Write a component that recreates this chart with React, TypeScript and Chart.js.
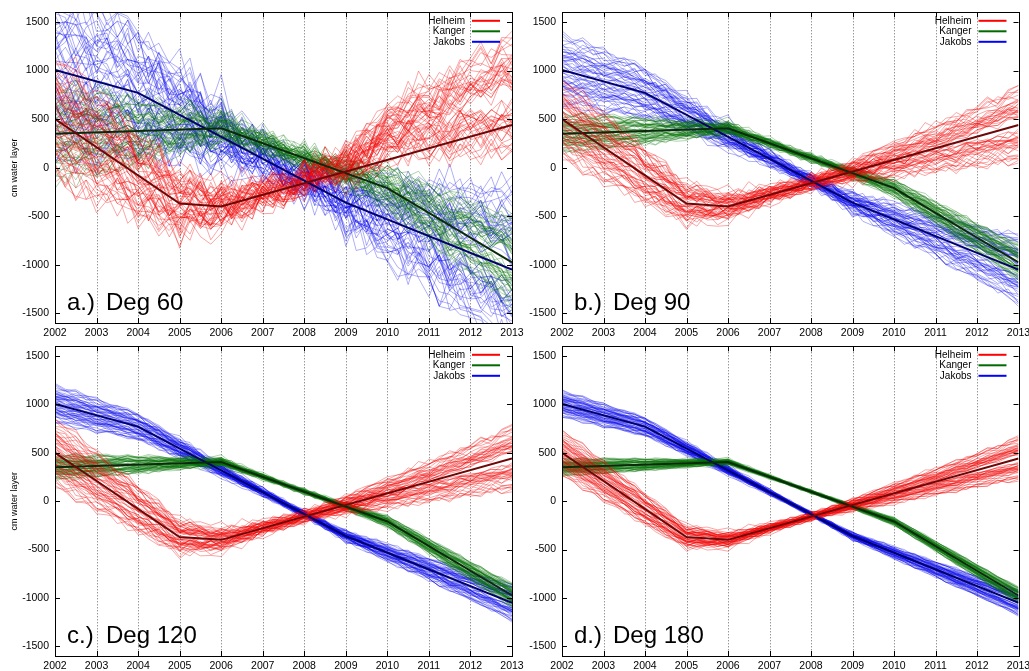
import React, { useEffect, useRef } from "react";
import { Chart, registerables } from "chart.js";

Chart.register(...registerables);

// ---------- data ----------
const YEARS = [2002, 2003, 2004, 2005, 2006, 2007, 2008, 2009, 2010, 2011, 2012, 2013];
const Y_TICKS = [-1500, -1000, -500, 0, 500, 1000, 1500];
const SERIES_NAMES = ["Helheim", "Kanger", "Jakobs"];
const PANEL_LETTERS = ["a.)", "b.)", "c.)", "d.)"];
const PANEL_TITLES = ["Deg 60", "Deg 90", "Deg 120", "Deg 180"];
const Y_TITLE = "cm water layer";

// quarterly sampling of the ensemble members
const SAMPLE_START = 2002;
const SAMPLE_STEP = 0.25;

// true (reference) curves, knots
const helheimKnotsX = [2002, 2005, 2006, 2013];
const helheimKnotsY = [500, -370, -400, 440];
const kangerKnotsX = [2002, 2006, 2010, 2013];
const kangerKnotsY = [350, 405, -210, -975];
const jakobsKnotsX = [2002, 2004, 2009, 2013];
const jakobsKnotsY = [1005, 770, -360, -1050];

// true curves read at the quarterly sample times
const helheimTruth = [500, 428, 355, 283, 210, 138, 65, -8, -80, -153, -225, -298, -370, -378, -385, -393, -400,
  -370, -340, -310, -280, -250, -220, -190, -160, -130, -100, -70, -40, -10, 20, 50, 80, 110, 140, 170, 200, 230, 260, 290, 320, 350, 380, 410, 440];
const kangerTruth = [350, 353, 357, 360, 364, 367, 371, 374, 378, 381, 384, 388, 391, 395, 398, 402, 405,
  367, 328, 290, 251, 213, 174, 136, 98, 59, 21, -18, -56, -95, -133, -172, -210,
  -274, -338, -401, -465, -529, -593, -656, -720, -784, -848, -911, -975];
const jakobsTruth = [1005, 976, 946, 917, 888, 858, 829, 799, 770,
  714, 657, 601, 544, 488, 431, 375, 318, 262, 205, 149, 92, 36, -21, -77, -134, -190, -247, -304, -360,
  -403, -446, -489, -533, -576, -619, -662, -705, -748, -791, -834, -878, -921, -964, -1007, -1050];

// ensemble member departures (slow part), in spread units
const OFFSETS = [
  [9,8,9,7,8, 7,6,7,5,6, 5,5,4,5,3, 4,3,3,2,3, 2,1,2,1,2, 1,2,2,3,2, 3,4,3,4,5, 4,5,6,5,6, 7,6,7,8,8],
  [-8,-9,-7,-8,-6, -7,-6,-5,-6,-4, -5,-4,-3,-4,-3, -2,-3,-2,-1,-2, -1,-2,-1,0,-1, 0,-1,0,-1,-2, -1,-2,-3,-2,-3, -4,-3,-4,-5,-4, -5,-6,-5,-7,-7],
  [5,6,4,5,6, 5,4,5,3,4, 2,3,2,1,2, 0,-1,0,-1,-2, -1,-2,-1,-2,-1, -2,-1,-2,-3,-2, -3,-4,-3,-4,-5, -4,-5,-6,-7,-6, -7,-8,-7,-9,-9],
  [-4,-3,-5,-4,-2, -3,-1,-2,0,-1, 1,0,2,1,2, 3,2,3,2,1, 2,1,2,1,0, 1,2,1,2,3, 2,3,4,3,5, 4,5,6,5,7, 6,7,8,7,9],
  [10,9,10,8,9, 8,7,8,6,7, 6,5,6,4,5, 4,5,3,4,2, 3,2,1,2,1, 0,1,0,-1,0, -1,0,-1,0,1, 0,1,2,1,2, 3,2,3,4,3],
  [2,1,3,2,4, 3,4,5,4,3, 4,3,4,2,3, 2,1,2,0,1, 0,-1,0,-1,-2, -1,-2,-3,-2,-3, -4,-3,-4,-5,-4, -5,-6,-5,-6,-7, -6,-7,-8,-7,-8],
  [-10,-9,-10,-8,-9, -7,-8,-6,-7,-5, -6,-4,-5,-3,-4, -3,-2,-3,-1,-2, -1,0,-1,0,1, 0,1,2,1,2, 3,2,3,4,3, 4,3,4,5,4, 5,4,5,6,5],
  [6,7,5,6,4, 5,6,7,6,5, 4,5,3,4,3, 2,3,1,2,1, 2,1,0,1,0, -1,0,1,0,1, 2,1,2,3,2, 3,4,3,4,5, 4,5,6,5,6],
  [-6,-5,-7,-6,-8, -7,-6,-7,-5,-6, -4,-5,-3,-4,-2, -3,-2,-1,-2,-1, 0,-1,0,1,0, 1,0,1,2,1, 0,1,0,-1,0, -1,-2,-1,-2,-3, -2,-3,-4,-3,-4],
  [3,4,2,3,1, 2,1,0,1,-1, 0,-1,-2,-1,-2, -1,-2,-1,-2,-1, -2,-1,-2,-1,-2, -1,-2,-1,-2,-3, -2,-3,-4,-3,-4, -5,-4,-5,-6,-5, -6,-7,-6,-8,-8],
  [-2,-3,-1,-2,0, -1,1,0,2,1, 3,2,3,4,3, 2,3,2,1,2, 1,2,1,2,1, 2,1,2,3,2, 3,4,5,4,5, 6,5,6,7,6, 7,8,7,9,10],
  [7,6,8,7,8, 6,7,5,6,4, 5,3,4,2,3, 1,2,0,1,0, -1,0,-1,0,-1, -2,-1,-2,-1,0, -1,0,1,0,1, 2,1,2,3,2, 3,2,3,4,4],
  [-7,-8,-6,-7,-5, -6,-4,-5,-3,-4, -2,-3,-1,-2,0, -1,0,1,0,1, 0,1,0,1,2, 1,2,1,2,1, 2,1,0,1,0, -1,0,-1,-2,-1, -2,-3,-2,-3,-4],
  [1,0,2,1,3, 2,3,2,4,3, 4,3,2,3,2, 1,2,1,0,1, 0,1,0,-1,0, -1,0,-1,0,-1, 0,-1,-2,-1,-2, -3,-2,-3,-4,-3, -4,-5,-4,-6,-6],
];

// ensemble member departures (fast, jagged part)
const JITTER = [
  [0,2,-1,1,-2, 1,3,-1,0,2, -2,1,-1,2,0, -3,1,2,-1,1, 0,-2,2,1,-1, 3,-1,0,-2,1, 2,-1,1,-3,0, 2,1,-2,0,3, -1,1,-2,2,0],
  [1,-1,2,-2,0, 3,-1,1,-1,2, 0,-2,1,3,-1, 0,2,-2,1,-1, 2,0,-3,1,2, -1,1,-2,0,2, -1,3,0,-2,1, -1,2,0,-3,1, 2,-1,1,0,-2],
  [-1,1,0,3,-2, 0,2,-1,-3,1, 2,-1,0,1,-2, 3,-1,1,-2,0, 1,2,-1,0,-2, 2,0,-1,3,-1, 0,-2,1,2,-1, 1,-3,2,0,1, -2,0,2,-1,1],
  [2,0,-2,1,1, -1,0,3,-2,1, -1,2,0,-1,3, -2,0,1,-1,2, -1,3,0,-2,1, 0,-1,2,-3,1, 1,0,-1,2,-2, 3,0,-1,1,-2, 0,2,-1,1,-1],
  [-2,1,3,-1,0, 2,-2,1,0,-1, 3,-2,1,2,-1, 0,1,-3,2,0, -1,1,2,-2,3, -1,0,1,-1,2, -3,1,0,2,-1, 0,1,-2,3,-1, 1,-1,0,2,-3],
  [0,-2,1,2,-1, -2,2,0,1,-3, 1,0,2,-1,1, -2,3,-1,0,2, -1,-2,1,0,2, -2,3,-1,1,0, 2,-2,1,-1,3, -1,0,2,-2,0, 1,3,-1,0,2],
  [3,-1,0,-2,2, 1,-1,2,-2,0, -1,1,-3,2,1, -1,0,2,-1,-2, 3,1,-1,0,-2, 1,2,-1,2,-3, 0,1,-1,-2,2, 0,-1,3,-2,1, 0,-2,1,-1,2],
];

// member weights: full and half-width members on both sides of the true curve
const MEMBER_WEIGHTS = [1, -1, 0.55, -0.55];

// Deg 60 Helheim ensemble sits above the true curve after 2008
const helheimBiasDeg60 = [0,0,0,0,0, 0,0,0,0,0, 0,0,0,0,0, 0,0,0,0,0, 0,0,0,0,30, 40,50,60,80,100,
  150,200,280, 280,290,300,280,270,290,300,310,290,280,300,290];

// spread per panel (Helheim, Kanger, Jakobs)
const spreadDeg60 = [65, 50, 95];
const spreadDeg90 = [42, 20, 38];
const spreadDeg120 = [36, 13, 20];
const spreadDeg180 = [24, 9, 14];
const jaggedDeg60 = [45, 32, 55];
const jaggedDeg90 = [14, 8, 12];
const jaggedDeg120 = [8, 5, 6];
const jaggedDeg180 = [3, 2, 3];

// ---------- styling ----------
const FONT = "'Liberation Sans', Arial, Helvetica, sans-serif";
const MEMBER_COLORS = ["rgba(240,0,0,0.5)", "rgba(0,115,0,0.45)", "rgba(0,0,235,0.45)"];
const TRUTH_COLORS = ["#6e0808", "#0b2a0b", "#00006e"];
const LEGEND_COLORS = ["#ff0000", "#006a00", "#0000ff"];

type PanelCfg = {
  idx: number; left: number; top: number; w: number; h: number; plotRight: number;
  showYTitle: boolean; spread: number[]; jagged: number[]; redBias: number[] | null;
};

const PANELS: PanelCfg[] = [
  { idx: 0, left: 0, top: 0, w: 540, h: 345, plotRight: 512, showYTitle: true, spread: spreadDeg60, jagged: jaggedDeg60, redBias: helheimBiasDeg60 },
  { idx: 1, left: 507, top: 0, w: 540, h: 345, plotRight: 511.5, showYTitle: false, spread: spreadDeg90, jagged: jaggedDeg90, redBias: null },
  { idx: 2, left: 0, top: 334, w: 540, h: 344, plotRight: 512, showYTitle: true, spread: spreadDeg120, jagged: jaggedDeg120, redBias: null },
  { idx: 3, left: 507, top: 334, w: 540, h: 344, plotRight: 511.5, showYTitle: false, spread: spreadDeg180, jagged: jaggedDeg180, redBias: null },
];

function buildMembers(truth: number[], series: number, spread: number, jag: number, bias: number[] | null) {
  const out: { x: number; y: number }[][] = [];
  const n = OFFSETS.length;
  for (let k = 0; k < n; k++) {
    MEMBER_WEIGHTS.forEach((w, wi) => {
      const off = OFFSETS[(k + series * 5 + (wi >= 2 ? 7 : 0)) % n];
      const jit = JITTER[(k + series * 2 + wi * 3) % JITTER.length];
      out.push(
        truth.map((v, i) => ({
          x: SAMPLE_START + i * SAMPLE_STEP,
          y: v + w * (off[i] ?? 0) * spread + (jit[i] ?? 0) * jag + (bias ? bias[i] ?? 0 : 0),
        }))
      );
    });
  }
  return out;
}

function buildDatasets(cfg: PanelCfg) {
  const truths = [helheimTruth, kangerTruth, jakobsTruth];
  const knotsX = [helheimKnotsX, kangerKnotsX, jakobsKnotsX];
  const knotsY = [helheimKnotsY, kangerKnotsY, jakobsKnotsY];
  const ds: any[] = [];
  // truth lines first => drawn on top
  for (let s = 0; s < 3; s++) {
    ds.push({
      label: SERIES_NAMES[s] + " truth",
      data: knotsX[s].map((x, i) => ({ x, y: knotsY[s][i] })),
      borderColor: TRUTH_COLORS[s],
      borderWidth: 2,
      pointRadius: 0,
      fill: false,
    });
  }
  for (let s = 0; s < 3; s++) {
    const members = buildMembers(truths[s], s, cfg.spread[s], cfg.jagged[s], s === 0 ? cfg.redBias : null);
    members.forEach((m, j) => {
      ds.push({
        label: SERIES_NAMES[s] + " " + j,
        data: m,
        borderColor: MEMBER_COLORS[s],
        borderWidth: 0.7,
        pointRadius: 0,
        fill: false,
      });
    });
  }
  return ds;
}

function decorPlugin(cfg: PanelCfg) {
  return {
    id: "decor" + cfg.idx,
    beforeDatasetsDraw(chart: any) {
      const { ctx, chartArea: a, scales } = chart;
      const x = scales.x;
      ctx.save();
      ctx.strokeStyle = "#6a6a6a";
      ctx.lineWidth = 1;
      ctx.setLineDash([1, 2]);
      YEARS.slice(1, -1).forEach((yr) => {
        const px = Math.round(x.getPixelForValue(yr)) + 0.5;
        ctx.beginPath();
        ctx.moveTo(px, a.top);
        ctx.lineTo(px, a.bottom);
        ctx.stroke();
      });
      ctx.restore();
    },
    afterDatasetsDraw(chart: any) {
      const { ctx, chartArea: a, scales } = chart;
      const x = scales.x;
      const y = scales.y;
      ctx.save();
      ctx.setLineDash([]);
      ctx.strokeStyle = "#000";
      ctx.lineWidth = 1;
      // border
      ctx.strokeRect(Math.round(a.left) + 0.5, Math.round(a.top) + 0.5, Math.round(a.right - a.left), Math.round(a.bottom - a.top));
      // inward ticks
      const tl = 5;
      ctx.beginPath();
      Y_TICKS.forEach((v) => {
        const py = Math.round(y.getPixelForValue(v)) + 0.5;
        ctx.moveTo(a.left, py);
        ctx.lineTo(a.left + tl, py);
        ctx.moveTo(a.right, py);
        ctx.lineTo(a.right - tl, py);
      });
      YEARS.forEach((v) => {
        const px = Math.round(x.getPixelForValue(v)) + 0.5;
        ctx.moveTo(px, a.bottom);
        ctx.lineTo(px, a.bottom - tl);
        ctx.moveTo(px, a.top);
        ctx.lineTo(px, a.top + tl);
      });
      ctx.stroke();

      // legend
      ctx.font = "10px " + FONT;
      ctx.fillStyle = "#000";
      ctx.textAlign = "right";
      ctx.textBaseline = "middle";
      SERIES_NAMES.forEach((name, i) => {
        const ly = a.top + 8.5 + 10.5 * i;
        ctx.fillText(name, a.right - 47, ly);
        ctx.strokeStyle = LEGEND_COLORS[i];
        ctx.lineWidth = 2;
        ctx.beginPath();
        ctx.moveTo(a.right - 40, ly);
        ctx.lineTo(a.right - 12, ly);
        ctx.stroke();
      });

      // panel label
      ctx.fillStyle = "#000";
      ctx.font = "24px " + FONT;
      ctx.textAlign = "left";
      ctx.textBaseline = "alphabetic";
      ctx.fillText(PANEL_LETTERS[cfg.idx], a.left + 12, a.bottom - 13);
      ctx.fillText(PANEL_TITLES[cfg.idx], a.left + 51, a.bottom - 13);

      // y title
      if (cfg.showYTitle) {
        ctx.save();
        ctx.translate(15, (a.top + a.bottom) / 2);
        ctx.rotate(-Math.PI / 2);
        ctx.font = "9px " + FONT;
        ctx.textAlign = "center";
        ctx.textBaseline = "middle";
        ctx.fillText(Y_TITLE, 0, 0);
        ctx.restore();
      }
      ctx.restore();
    },
  };
}

function Panel({ cfg }: { cfg: PanelCfg }) {
  const ref = useRef<HTMLCanvasElement | null>(null);
  useEffect(() => {
    if (!ref.current) return;
    const chart = new Chart(ref.current, {
      type: "line",
      data: { datasets: buildDatasets(cfg) },
      options: {
        animation: false,
        responsive: false,
        devicePixelRatio: 1,
        events: [],
        parsing: false,
        normalized: true,
        layout: { padding: { top: 12, right: cfg.w - cfg.plotRight, left: 0, bottom: 0 } },
        plugins: { legend: { display: false }, tooltip: { enabled: false }, title: { display: false } },
        elements: { point: { radius: 0 }, line: { tension: 0 } },
        scales: {
          x: {
            type: "linear",
            min: 2002,
            max: 2013,
            grid: { display: false, drawTicks: false },
            border: { display: false },
            afterBuildTicks: (s: any) => {
              s.ticks = YEARS.map((v) => ({ value: v }));
            },
            afterFit: (s: any) => {
              s.height = 22;
            },
            ticks: {
              autoSkip: false,
              maxRotation: 0,
              minRotation: 0,
              padding: 4,
              color: "#000",
              font: { family: FONT, size: 10.5 },
              callback: (v: any) => String(v),
            },
          },
          y: {
            type: "linear",
            min: -1600,
            max: 1600,
            grid: { display: false, drawTicks: false },
            border: { display: false },
            afterBuildTicks: (s: any) => {
              s.ticks = Y_TICKS.map((v) => ({ value: v }));
            },
            afterFit: (s: any) => {
              s.width = 55;
            },
            ticks: {
              padding: 6,
              color: "#000",
              font: { family: FONT, size: 10.5 },
              callback: (v: any) => String(v),
            },
          },
        },
      } as any,
      plugins: [decorPlugin(cfg)],
    });
    return () => chart.destroy();
  }, [cfg]);
  return (
    <canvas
      ref={ref}
      width={cfg.w}
      height={cfg.h}
      style={{ position: "absolute", left: cfg.left, top: cfg.top, width: cfg.w, height: cfg.h }}
    />
  );
}

export default function App() {
  return (
    <div
      style={{
        position: "fixed",
        left: 0,
        top: 0,
        width: 1029,
        height: 671,
        overflow: "hidden",
        background: "#fff",
      }}
    >
      {PANELS.map((p) => (
        <Panel key={p.idx} cfg={p} />
      ))}
    </div>
  );
}
